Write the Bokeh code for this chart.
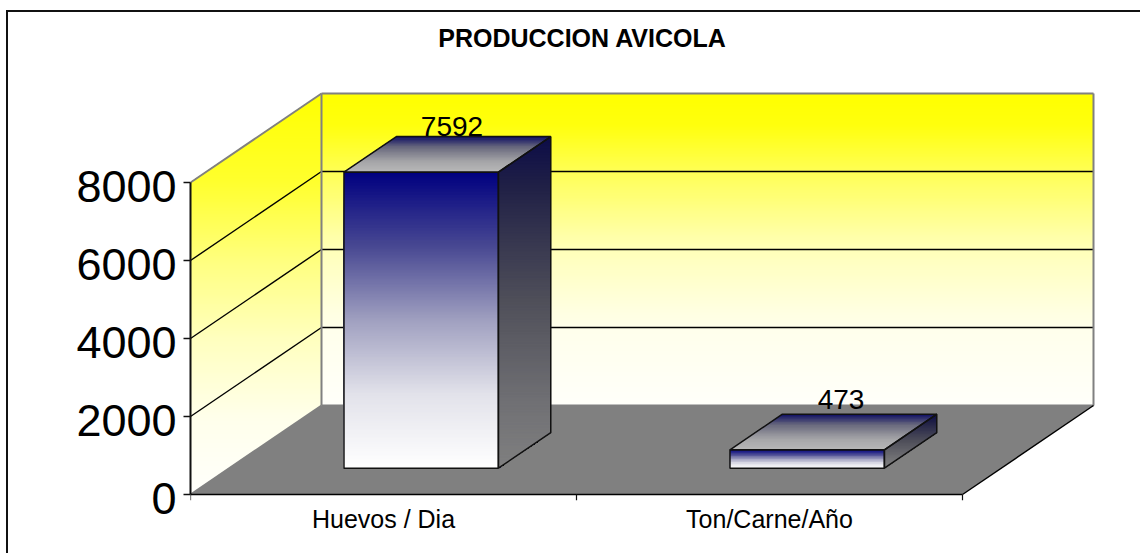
from bokeh.plotting import figure
from bokeh.models import FixedTicker, ColumnDataSource, Range1d, LinearAxis
from bokeh.core.properties import value
from bokeh.embed import file_html
from bokeh.resources import INLINE

# ---- chart data ----
categories = ["Huevos / Dia", "Ton/Carne/Año"]
values = [7592, 473]
value_ticks = [0, 2000, 4000, 6000, 8000]
category_centres = [0.5, 1.5]
category_bounds = [0, 1, 2]
title_text = "PRODUCCION AVICOLA"

# ---- 3D projection (category, value, depth) -> plot coordinates ----
VAL_MAX = value_ticks[-1]
CAT_MAX = len(categories)
PX_PER_CAT = 386.0
PX_PER_VAL = 312.0 / VAL_MAX
DX = 131.0 / PX_PER_CAT
DY = 89.0 / PX_PER_VAL
BAR_LO, BAR_HI = 0.2975, 0.6975
DEPTH_LO, DEPTH_HI = 0.295, 0.695


def proj(c, v, d):
    return (c + d * DX, v + d * DY)


def clip_band(poly, lo, hi):
    def clip(points, keep, cross):
        out = []
        for i, a in enumerate(points):
            b = points[(i + 1) % len(points)]
            ka, kb = keep(a[1]), keep(b[1])
            if ka:
                out.append(a)
            if ka != kb:
                t = (cross - a[1]) / (b[1] - a[1])
                out.append((a[0] + t * (b[0] - a[0]), cross))
        return out
    res = clip(poly, lambda y: y >= lo, lo)
    if res:
        res = clip(res, lambda y: y <= hi, hi)
    return res


def ramp(stops, t):
    for (t0, c0), (t1, c1) in zip(stops, stops[1:]):
        if t <= t1:
            f = (t - t0) / (t1 - t0)
            return "#%02x%02x%02x" % tuple(round(a + (b - a) * f) for a, b in zip(c0, c1))
    return "#%02x%02x%02x" % stops[-1][1]


def gradient(poly, stops, store, step_px=1.5):
    """colour ramp over a polygon's on-screen height; each band is painted down to
    the polygon's foot so that no seams show between bands"""
    ys = [q[1] for q in poly]
    hi, lo = max(ys), min(ys)
    n = max(3, int((hi - lo) * PX_PER_VAL / step_px))
    for i in range(n):
        part = clip_band(poly, lo, hi - (hi - lo) * i / n)
        if len(part) >= 3:
            store["xs"].append([q[0] for q in part])
            store["ys"].append([q[1] for q in part])
            store["c"].append(ramp(stops, (i + 0.5) / n))


WIDTH, HEIGHT = 1132, 541
ZERO_PX = 494
TICK_PX = 6
FRAME_L, FRAME_T, FRAME_R, FRAME_B = 190, 20, 1096, ZERO_PX + TICK_PX
LABEL_DROP_PX = 4
TITLE_X_PX, TITLE_Y_PX = 582, 37
ORG_X, ORG_Y = 8, 12
y_start = -(FRAME_B - ZERO_PX) / PX_PER_VAL
y_end = (ZERO_PX - FRAME_T) / PX_PER_VAL

p = figure(
    width=WIDTH, height=HEIGHT, output_backend="svg", toolbar_location=None,
    x_range=(0, (FRAME_R - FRAME_L) / PX_PER_CAT),
    y_range=(y_start, y_end),
    min_border_left=FRAME_L - ORG_X, min_border_right=ORG_X + WIDTH - FRAME_R,
    min_border_top=FRAME_T - ORG_Y, min_border_bottom=ORG_Y + HEIGHT - FRAME_B,
    frame_width=FRAME_R - FRAME_L, frame_height=FRAME_B - FRAME_T,
    tools="",
)
p.grid.visible = False
p.outline_line_color = None
p.background_fill_color = None
p.border_fill_color = "#ffffff"
p.styles = {"position": "absolute", "left": "6px", "top": "10px",
            "border-left": "2px solid #111111", "border-top": "2px solid #111111"}

Y = (255, 255, 0)
BACK_STOPS = [(0, Y), (0.1, (255, 255, 13)), (0.25, (255, 255, 85)), (0.5, (255, 255, 185)),
              (0.75, (255, 255, 235)), (1, (255, 255, 250))]
LEFT_STOPS = [(0, Y), (0.22, (255, 255, 45)), (0.42, (255, 255, 128)), (0.61, (255, 255, 190)),
              (0.81, (255, 255, 235)), (1, (255, 255, 252))]
FRONT_STOPS = [(0, (0, 0, 128)), (0.25, (72, 72, 146)), (0.5, (160, 160, 192)),
               (0.75, (226, 226, 234)), (1, (255, 255, 255))]
SIDE_STOPS = [(0, (12, 12, 72)), (0.15, (32, 32, 70)), (0.5, (80, 80, 90)),
              (0.8, (112, 112, 116)), (1, (128, 128, 128))]
TOP_STOPS = [(0, (14, 14, 100)), (0.3, (105, 105, 125)), (0.7, (165, 165, 168)), (1, (184, 184, 184))]

# walls
wall = dict(xs=[], ys=[], c=[])
back = [proj(0, 0, 1), proj(CAT_MAX, 0, 1), proj(CAT_MAX, VAL_MAX, 1), proj(0, VAL_MAX, 1)]
left = [proj(0, 0, 0), proj(0, 0, 1), proj(0, VAL_MAX, 1), proj(0, VAL_MAX, 0)]
gradient(back, BACK_STOPS, wall)
gradient(left, LEFT_STOPS, wall)
p.patches("xs", "ys", source=ColumnDataSource(wall), fill_color="c", line_color=None)

# floor
floor = [proj(0, 0, 0), proj(CAT_MAX, 0, 0), proj(CAT_MAX, 0, 1), proj(0, 0, 1)]
p.patch([q[0] for q in floor], [q[1] for q in floor], fill_color="#808080", line_color=None)


def seg(a, b, color, w=1.0):
    p.line([a[0], b[0]], [a[1], b[1]], line_color=color, line_width=w)


# gridlines and wall edges
for t in value_ticks[1:-1]:
    seg(proj(0, t, 0), proj(0, t, 1), "#000000", 1.4)
    seg(proj(0, t, 1), proj(CAT_MAX, t, 1), "#000000", 1.4)
GREY = "#808080"
seg(proj(0, 0, 0), proj(0, 0, 1), GREY, 2)
seg(proj(0, VAL_MAX, 0), proj(0, VAL_MAX, 1), GREY, 2)
seg(proj(0, VAL_MAX, 1), proj(CAT_MAX, VAL_MAX, 1), GREY, 2)
seg(proj(0, 0, 1), proj(0, VAL_MAX, 1), GREY, 2)
seg(proj(CAT_MAX, 0, 1), proj(CAT_MAX, VAL_MAX, 1), GREY, 2)
seg(proj(0, 0, 1), proj(CAT_MAX, 0, 1), GREY, 2)
seg(proj(CAT_MAX, 0, 0), proj(CAT_MAX, 0, 1), "#000000", 1.4)

# front edge of the floor and the category tick marks
seg(proj(0, 0, 0), proj(CAT_MAX, 0, 0), "#000000", 1.6)
for c in category_bounds:
    seg((c, 0), (c, y_start), "#111111", 1.2)

# bars
bar_faces = []
bars = dict(xs=[], ys=[], c=[])
for i, v in enumerate(values):
    c0, c1 = i + BAR_LO, i + BAR_HI
    front = [proj(c0, 0, DEPTH_LO), proj(c1, 0, DEPTH_LO), proj(c1, v, DEPTH_LO), proj(c0, v, DEPTH_LO)]
    side = [proj(c1, 0, DEPTH_LO), proj(c1, 0, DEPTH_HI), proj(c1, v, DEPTH_HI), proj(c1, v, DEPTH_LO)]
    top = [proj(c0, v, DEPTH_LO), proj(c1, v, DEPTH_LO), proj(c1, v, DEPTH_HI), proj(c0, v, DEPTH_HI)]
    bar_faces.append((front, side, top))
    gradient(side, SIDE_STOPS, bars)
    gradient(top, TOP_STOPS, bars)
    gradient(front, FRONT_STOPS, bars)
p.patches("xs", "ys", source=ColumnDataSource(bars), fill_color="c", line_color=None)
for front, side, top in bar_faces:
    for face in (side, top, front):
        p.patch([q[0] for q in face], [q[1] for q in face], fill_color=None,
                line_color="#111111", line_width=1.5)

# value labels
label_src = ColumnDataSource(dict(
    x=[proj(i + 0.5, v, 0.5)[0] for i, v in enumerate(values)],
    y=[proj(i + 0.5, v, DEPTH_HI)[1] for i, v in enumerate(values)],
    t=[str(v) for v in values],
    xo=[3, 6], yo=[-10, -15],
))
p.text("x", "y", text="t", source=label_src, text_align="center", text_baseline="alphabetic",
       x_offset="xo", y_offset="yo", text_font=value("Liberation Sans"),
       text_font_size=value("28px"), text_color="#000000")

# title, drawn in the upper part of the plot area
p.text([(TITLE_X_PX - FRAME_L) / PX_PER_CAT], [(ZERO_PX - TITLE_Y_PX) / PX_PER_VAL], text=[title_text],
       text_align="center", text_baseline="middle", text_font=value("Liberation Sans"),
       text_font_style="bold", text_font_size=value("25px"), text_color="#000000")

# value axis: line and tick marks only (no labels of its own)
ya = p.yaxis[0]
ya.ticker = FixedTicker(ticks=[], minor_ticks=value_ticks)
ya.bounds = (value_ticks[0], value_ticks[-1])
ya.axis_line_color = "#111111"
ya.axis_line_width = 2
ya.major_tick_line_color = None
ya.minor_tick_line_color = "#111111"
ya.minor_tick_line_width = 1.5
ya.minor_tick_in = 0
ya.minor_tick_out = 7
ya.major_tick_in = 0
ya.major_tick_out = 0
ya.major_label_standoff = 0

# value axis labels sit a little below their ticks, so they use a slightly shifted range
drop = LABEL_DROP_PX / PX_PER_VAL
p.extra_y_ranges = {"labels": Range1d(y_start + drop, y_end + drop)}
yl = LinearAxis(y_range_name="labels", ticker=FixedTicker(ticks=value_ticks))
yl.axis_line_color = None
yl.major_tick_line_color = None
yl.minor_tick_line_color = None
yl.major_tick_in = 0
yl.major_tick_out = 0
yl.major_label_standoff = 7
yl.major_label_text_font = "Liberation Sans"
yl.major_label_text_font_size = "45px"
yl.major_label_text_color = "#000000"
yl.major_label_orientation = "horizontal"
p.add_layout(yl, "left")

# category axis: labels only; its line and ticks are drawn with the floor
xa = p.xaxis[0]
xa.ticker = FixedTicker(ticks=category_centres)
xa.major_label_overrides = dict(zip(category_centres, categories))
xa.axis_line_color = None
xa.major_tick_line_color = None
xa.major_tick_in = 0
xa.major_tick_out = 0
xa.minor_tick_line_color = None
xa.major_label_standoff = 4
xa.major_label_text_font = "Liberation Sans"
xa.major_label_text_font_size = "25px"
xa.major_label_text_color = "#000000"

open("out.html", "w").write(file_html(p, INLINE))
